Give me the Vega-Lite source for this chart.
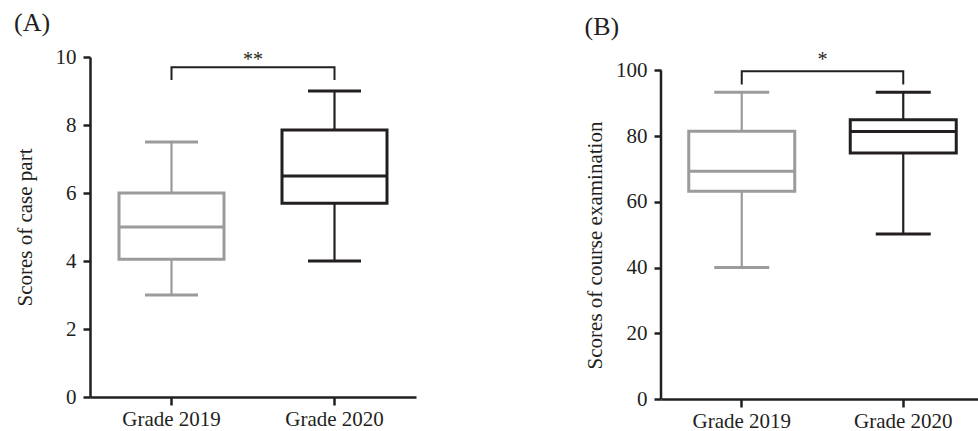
{
  "$schema": "https://vega.github.io/schema/vega-lite/v6.json",
  "padding": {"left": 14, "top": 10, "right": 0, "bottom": 0},
  "spacing": 168,
  "config": {
    "view": {"stroke": null},
    "font": "Liberation Serif",
    "tick": {"opacity": 1},
    "title": {"font": "Liberation Serif", "fontSize": 26, "fontWeight": "normal", "color": "#231f20", "anchor": "start", "frame": "bounds"},
    "axis": {
      "domainColor": "#231f20", "domainWidth": 2.5, "tickColor": "#231f20", "tickWidth": 2.5,
      "labelColor": "#231f20", "labelFont": "Liberation Serif", "labelFontSize": 21,
      "titleFont": "Liberation Serif", "titleFontSize": 21, "titleFontWeight": "normal", "titleColor": "#231f20",
      "grid": false
    },
    "axisY": {"tickSize": 7, "labelPadding": 7},
    "axisX": {"tickSize": 8, "labelPadding": 3, "labelAngle": 0}
  },
  "datasets": {
    "a": [
      {"g": "Grade 2019", "min": 3, "q1": 4.05, "median": 5, "q3": 6, "max": 7.5},
      {"g": "Grade 2020", "min": 4, "q1": 5.7, "median": 6.5, "q3": 7.85, "max": 9}
    ],
    "b": [
      {"g": "Grade 2019", "min": 40, "q1": 63.2, "median": 69.3, "q3": 81.5, "max": 93.4},
      {"g": "Grade 2020", "min": 50.2, "q1": 74.9, "median": 81.4, "q3": 85, "max": 93.4}
    ],
    "bra": [
      {"g": "Grade 2019", "v": 9.32, "k": 1},
      {"g": "Grade 2019", "v": 9.7, "k": 2},
      {"g": "Grade 2020", "v": 9.7, "k": 3},
      {"g": "Grade 2020", "v": 9.32, "k": 4}
    ],
    "brb": [
      {"g": "Grade 2019", "v": 95.7, "k": 1},
      {"g": "Grade 2019", "v": 99.8, "k": 2},
      {"g": "Grade 2020", "v": 99.8, "k": 3},
      {"g": "Grade 2020", "v": 95.7, "k": 4}
    ]
  },
  "hconcat": [
    {
      "title": {"text": "(A)", "offset": 10},
      "width": 326,
      "height": 340,
      "data": {"name": "a"},
      "layer": [
        {
          "mark": {"type": "rule", "strokeWidth": 2.2},
          "encoding": {
            "x": {"field": "g", "type": "nominal", "scale": {"paddingInner": 0, "paddingOuter": 0}, "title": null},
            "y": {"field": "min", "type": "quantitative", "scale": {"domain": [0, 10], "nice": false},
                  "axis": {"values": [0, 2, 4, 6, 8, 10], "titlePadding": 20}, "title": "Scores of case part"},
            "y2": {"field": "max"},
            "color": {"field": "g", "type": "nominal", "scale": {"domain": ["Grade 2019", "Grade 2020"], "range": ["#9b9b9b", "#231f20"]}, "legend": null}
          }
        },
        {
          "mark": {"type": "tick", "thickness": 3, "size": 53},
          "encoding": {
            "x": {"field": "g", "type": "nominal"},
            "y": {"field": "min", "type": "quantitative"},
            "color": {"field": "g", "type": "nominal", "legend": null}
          }
        },
        {
          "mark": {"type": "tick", "thickness": 3, "size": 53},
          "encoding": {
            "x": {"field": "g", "type": "nominal"},
            "y": {"field": "max", "type": "quantitative"},
            "color": {"field": "g", "type": "nominal", "legend": null}
          }
        },
        {
          "mark": {"type": "bar", "fill": "white", "strokeWidth": 3, "width": 105},
          "encoding": {
            "x": {"field": "g", "type": "nominal"},
            "y": {"field": "q1", "type": "quantitative"},
            "y2": {"field": "q3"},
            "stroke": {"field": "g", "type": "nominal", "scale": {"domain": ["Grade 2019", "Grade 2020"], "range": ["#9b9b9b", "#231f20"]}, "legend": null}
          }
        },
        {
          "mark": {"type": "tick", "thickness": 3, "size": 105},
          "encoding": {
            "x": {"field": "g", "type": "nominal"},
            "y": {"field": "median", "type": "quantitative"},
            "color": {"field": "g", "type": "nominal", "legend": null}
          }
        },
        {
          "data": {"name": "bra"},
          "mark": {"type": "line", "strokeWidth": 2, "color": "#231f20"},
          "encoding": {
            "x": {"field": "g", "type": "nominal"},
            "y": {"field": "v", "type": "quantitative"},
            "order": {"field": "k"}
          }
        },
        {
          "data": {"values": [{"label": "**", "v": 9.75}]},
          "mark": {"type": "text", "fontSize": 20, "baseline": "alphabetic", "color": "#231f20"},
          "encoding": {
            "y": {"field": "v", "type": "quantitative"},
            "text": {"field": "label"}
          }
        }
      ]
    },
    {
      "title": {"text": "(B)", "offset": 10},
      "width": 323,
      "height": 342,
      "data": {"name": "b"},
      "layer": [
        {
          "mark": {"type": "rule", "strokeWidth": 2.2},
          "encoding": {
            "x": {"field": "g", "type": "nominal", "scale": {"paddingInner": 0, "paddingOuter": 0}, "title": null},
            "y": {"field": "min", "type": "quantitative", "scale": {"domain": [0, 104.1], "nice": false},
                  "axis": {"values": [0, 20, 40, 60, 80, 100], "domain": false, "titlePadding": 10, "titleY": 188}, "title": "Scores of course examination"},
            "y2": {"field": "max"},
            "color": {"field": "g", "type": "nominal", "scale": {"domain": ["Grade 2019", "Grade 2020"], "range": ["#9b9b9b", "#231f20"]}, "legend": null}
          }
        },
        {
          "data": {"values": [{"lo": 0, "hi": 100}]},
          "mark": {"type": "rule", "strokeWidth": 2.5, "color": "#231f20"},
          "encoding": {
            "x": {"datum": "Grade 2019", "type": "nominal", "bandPosition": 0},
            "y": {"field": "lo", "type": "quantitative"},
            "y2": {"field": "hi"}
          }
        },
        {
          "mark": {"type": "tick", "thickness": 3, "size": 55},
          "encoding": {
            "x": {"field": "g", "type": "nominal"},
            "y": {"field": "min", "type": "quantitative"},
            "color": {"field": "g", "type": "nominal", "legend": null}
          }
        },
        {
          "mark": {"type": "tick", "thickness": 3, "size": 55},
          "encoding": {
            "x": {"field": "g", "type": "nominal"},
            "y": {"field": "max", "type": "quantitative"},
            "color": {"field": "g", "type": "nominal", "legend": null}
          }
        },
        {
          "mark": {"type": "bar", "fill": "white", "strokeWidth": 3, "width": 106},
          "encoding": {
            "x": {"field": "g", "type": "nominal"},
            "y": {"field": "q1", "type": "quantitative"},
            "y2": {"field": "q3"},
            "stroke": {"field": "g", "type": "nominal", "scale": {"domain": ["Grade 2019", "Grade 2020"], "range": ["#9b9b9b", "#231f20"]}, "legend": null}
          }
        },
        {
          "mark": {"type": "tick", "thickness": 3, "size": 106},
          "encoding": {
            "x": {"field": "g", "type": "nominal"},
            "y": {"field": "median", "type": "quantitative"},
            "color": {"field": "g", "type": "nominal", "legend": null}
          }
        },
        {
          "data": {"name": "brb"},
          "mark": {"type": "line", "strokeWidth": 2, "color": "#231f20"},
          "encoding": {
            "x": {"field": "g", "type": "nominal"},
            "y": {"field": "v", "type": "quantitative"},
            "order": {"field": "k"}
          }
        },
        {
          "data": {"values": [{"label": "*", "v": 101.3}]},
          "mark": {"type": "text", "fontSize": 20, "baseline": "alphabetic", "color": "#231f20"},
          "encoding": {
            "y": {"field": "v", "type": "quantitative"},
            "text": {"field": "label"}
          }
        }
      ]
    }
  ]
}
